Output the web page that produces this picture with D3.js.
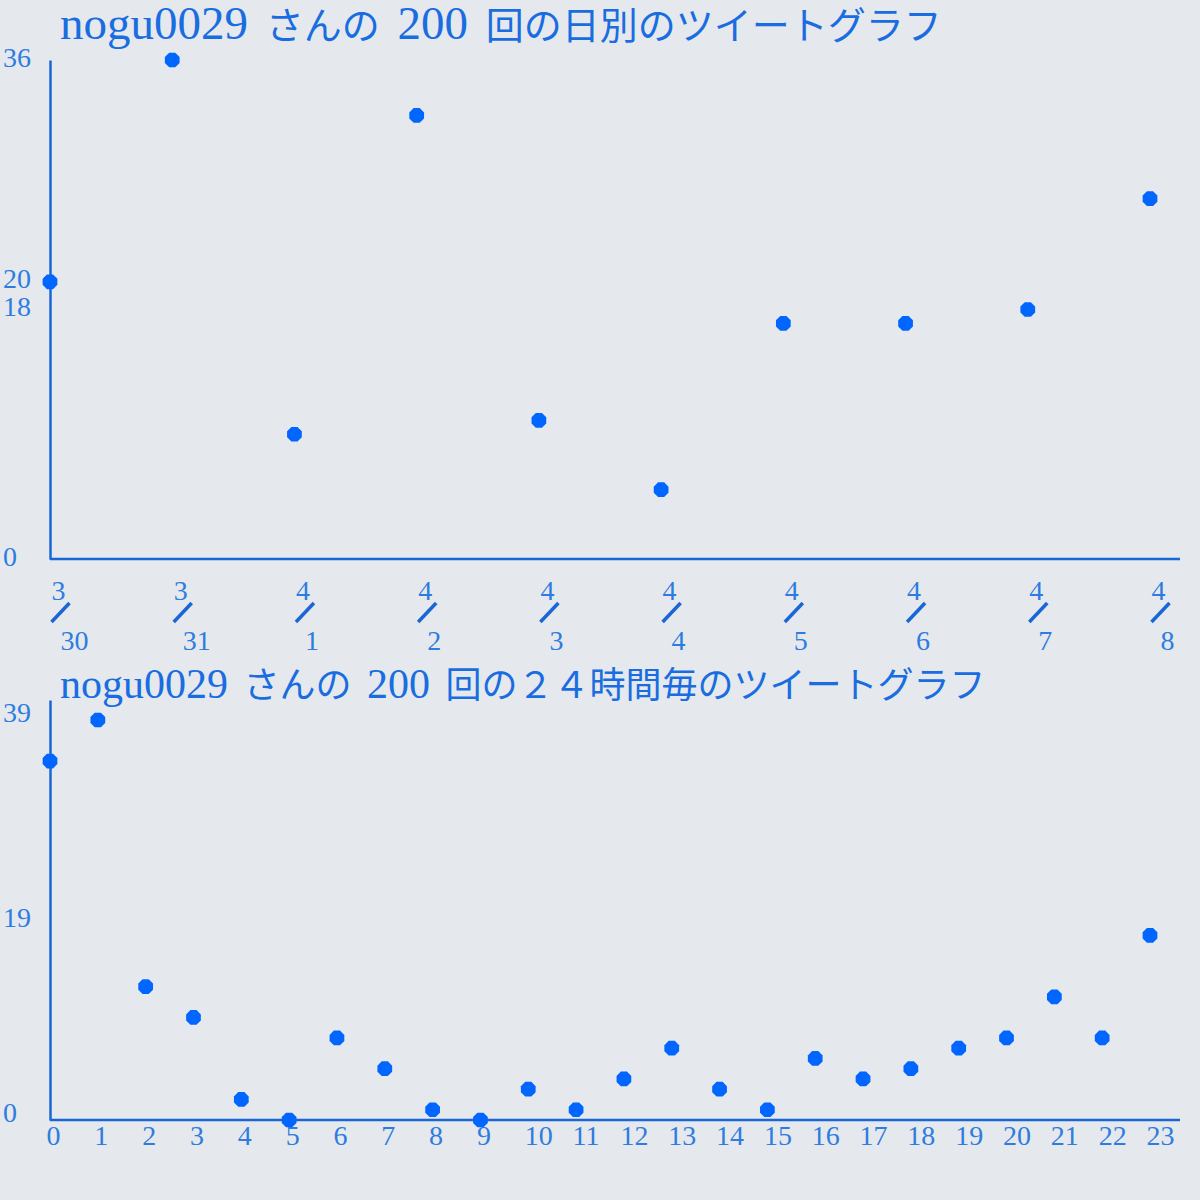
<!DOCTYPE html>
<html>
<head>
<meta charset="utf-8">
<script src="https://cdn.jsdelivr.net/npm/d3@7"></script>
<style>
  html, body { margin: 0; padding: 0; background: #e5e9ed; }
  svg { display: block; }
  text { font-family: "Liberation Serif", "Noto Sans CJK JP", serif; }
</style>
</head>
<body>
<div id="chart"></div>
<script>
// daily tweets
var dayMonths = ["3", "3", "4", "4", "4", "4", "4", "4", "4", "4"];
var dayDays   = ["30", "31", "1", "2", "3", "4", "5", "6", "7", "8"];
var dayCounts = [20, 36, 9, 32, 10, 5, 17, 17, 18, 26];
var dayTicks  = [36, 20, 18, 0];

// tweets per hour
var hours      = d3.range(24);
var hourCounts = [35, 39, 13, 10, 2, 0, 8, 5, 1, 0, 3, 1, 4, 7, 3, 1, 6, 4, 5, 7, 8, 12, 8, 18];
var hourTicks  = [39, 19, 0];

var title1 = "nogu0029 さんの 200 回の日別のツイートグラフ";
var title2 = "nogu0029 さんの 200 回の２４時間毎のツイートグラフ";

var titleColor = "#1a6de0", labelColor = "#2f7ce0", axisColor = "#1a66d6", dotColor = "#0066ff";

var svg = d3.select("#chart").append("svg")
    .attr("width", 1200)
    .attr("height", 1200);

svg.append("rect").attr("width", 1200).attr("height", 1200).attr("fill", "#e5e9ed");

// octagon marker
var octagon = {
  draw: function(context, size) {
    var r = Math.sqrt(size / 2.83);
    for (var i = 0; i < 8; i++) {
      var a = Math.PI / 8 + i * Math.PI / 4;
      if (i == 0) context.moveTo(r * Math.cos(a), r * Math.sin(a));
      else context.lineTo(r * Math.cos(a), r * Math.sin(a));
    }
    context.closePath();
  }
};
var marker = d3.symbol().type(octagon).size(180);

// split title into latin / CJK runs so each gets its own size
var cjkRe = /[\u3000-\u30ff\u4e00-\u9fff\uff00-\uffef]+|[^\u3000-\u30ff\u4e00-\u9fff\uff00-\uffef]+/g;
var cjkTest = /[\u3000-\u30ff\u4e00-\u9fff\uff00-\uffef]/;

function drawChart(opts) {
  var g = svg.append("g");

  var x = d3.scalePoint().domain(opts.keys).range([50, 1150]);
  var y = d3.scaleLinear().domain([0, opts.yMax]).range([opts.bottom, opts.top]);

  // title
  g.append("text")
      .attr("x", 60)
      .attr("y", opts.titleY)
      .attr("fill", titleColor)
      .style("white-space", "pre")
      .style("word-spacing", opts.wordSpacing + "px")
    .selectAll("tspan")
      .data(opts.title.match(cjkRe))
    .enter().append("tspan")
      .style("font-size", function(d) { return (cjkTest.test(d) ? opts.cjkSize : opts.titleSize) + "px"; })
      .style("font-family", function(d) { return cjkTest.test(d) ? "Noto Sans CJK JP" : "Liberation Serif"; })
      .text(function(d) { return d; });

  // y axis
  var yaxis = d3.axisLeft(y).tickValues(opts.yTicks).tickSize(0).tickSizeOuter(0);
  var gy = g.append("g")
      .attr("transform", "translate(50,0)")
      .call(yaxis);
  gy.select(".domain").attr("stroke", axisColor).attr("stroke-width", 2.5);
  gy.selectAll(".tick text")
      .attr("x", -47)
      .attr("dy", opts.yLabelDy)
      .attr("text-anchor", "start")
      .attr("fill", labelColor)
      .style("font-size", "28px")
      .style("font-family", "Liberation Serif");

  // x axis line
  g.append("line")
      .attr("x1", 50).attr("x2", x.range()[1] + 30)
      .attr("y1", opts.bottom).attr("y2", opts.bottom)
      .attr("stroke", axisColor).attr("stroke-width", 2.5);

  var xaxis = d3.axisBottom(x).tickSize(0).tickFormat("");
  var gx = g.append("g")
      .attr("transform", "translate(0," + opts.bottom + ")")
      .call(xaxis);
  gx.select(".domain").remove();
  gx.selectAll(".tick text").remove();
  opts.labelTicks(gx.selectAll(".tick"));

  // points
  g.selectAll(".dot")
      .data(opts.keys)
    .enter().append("path")
      .attr("class", "dot")
      .attr("d", marker)
      .attr("transform", function(d, i) { return "translate(" + x(d) + "," + y(opts.values[i]) + ")"; })
      .attr("fill", dotColor);
}

// top chart: daily
drawChart({
  keys: dayDays.map(function(d, i) { return dayMonths[i] + "/" + d; }),
  values: dayCounts,
  yMax: d3.max(dayCounts),
  yTicks: dayTicks,
  yLabelDy: 6,
  top: 60, bottom: 559,
  title: title1, titleY: 39, titleSize: 47, cjkSize: 38, wordSpacing: 6,
  labelTicks: function(ticks) {
    ticks.append("text")
        .attr("x", 1).attr("y", 41)
        .attr("text-anchor", "start")
        .attr("fill", labelColor)
        .style("font-size", "28px")
        .text(function(d) { return d.split("/")[0]; });
    ticks.append("line")
        .attr("x1", 1).attr("y1", 63)
        .attr("x2", 19).attr("y2", 44)
        .attr("stroke", axisColor)
        .attr("stroke-width", 3.5);
    ticks.append("text")
        .attr("x", 10).attr("y", 91)
        .attr("text-anchor", "start")
        .attr("fill", labelColor)
        .style("font-size", "28px")
        .text(function(d) { return d.split("/")[1]; });
  }
});

// bottom chart: per hour
drawChart({
  keys: hours,
  values: hourCounts,
  yMax: d3.max(hourCounts) * 1.05,
  yTicks: hourTicks,
  yLabelDy: 1,
  top: 700, bottom: 1120,
  title: title2, titleY: 698, titleSize: 42, cjkSize: 36, wordSpacing: 5,
  labelTicks: function(ticks) {
    ticks.append("text")
        .attr("x", -4).attr("y", 25)
        .attr("text-anchor", "start")
        .attr("fill", labelColor)
        .style("font-size", "28px")
        .text(function(d) { return d; });
  }
});
</script>
</body>
</html>
